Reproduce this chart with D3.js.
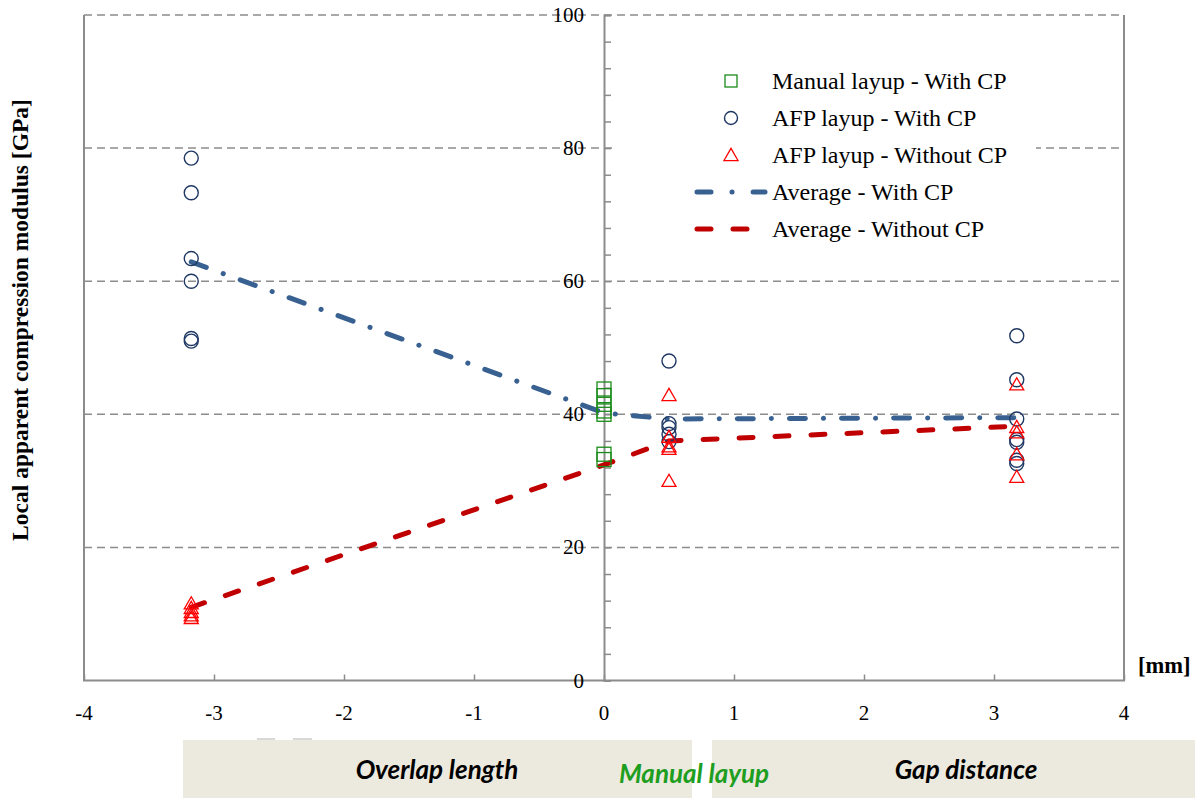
<!DOCTYPE html>
<html>
<head>
<meta charset="utf-8">
<title>Local apparent compression modulus</title>
<script src="https://d3js.org/d3.v7.min.js"></script>
<style>
  body { margin: 0; background: #fff; }
  svg { display: block; }
</style>
</head>
<body>
<svg width="1195" height="798"></svg>
<script>
// data
var xTicks = [-4, -3, -2, -1, 0, 1, 2, 3, 4];
var yTicks = [0, 20, 40, 60, 80, 100];

var manualWithCP = [[0, 43.8], [0, 42.8], [0, 41.5], [0, 40.5], [0, 40.0], [0, 34.0], [0, 33.2]];

var afpWithCP = [
  [-3.175, 78.5], [-3.175, 73.3], [-3.175, 63.4], [-3.175, 60.0], [-3.175, 51.4], [-3.175, 51.0],
  [0.5, 48.0], [0.5, 38.6], [0.5, 38.0], [0.5, 37.0], [0.5, 35.9],
  [3.175, 51.8], [3.175, 45.2], [3.175, 39.3], [3.175, 36.2], [3.175, 35.8], [3.175, 33.1], [3.175, 32.6]
];

var afpWithoutCP = [
  [-3.175, 11.6], [-3.175, 10.9], [-3.175, 10.3], [-3.175, 9.8], [-3.175, 9.4],
  [0.5, 42.9], [0.5, 36.6], [0.5, 35.2], [0.5, 34.8], [0.5, 30.0],
  [3.175, 44.5], [3.175, 38.1], [3.175, 37.3], [3.175, 34.0], [3.175, 30.6]
];

var avgX = [-3.175, 0, 0.5, 3.175];
var avgWithCP = [62.9, 40.2, 39.3, 39.5];
var avgWithoutCP = [11.0, 32.4, 36.0, 38.2];

var legendLabels = ["Manual layup - With CP", "AFP layup - With CP", "AFP layup - Without CP",
                    "Average - With CP", "Average - Without CP"];

var regionLabels = ["Overlap length", "Manual layup", "Gap distance"];

var svg = d3.select("svg");
var serif = "'Liberation Serif', 'Times New Roman', serif";

var x = d3.scaleLinear().domain([-4, 4]).range([84, 1124]);
var y = d3.scaleLinear().domain([0, 100]).range([680.5, 15]);

// grid lines (dashed)
svg.append("g").selectAll("line")
  .data(yTicks.filter(function(d) { return d > 0; }))
  .join("line")
  .attr("x1", x(-4)).attr("x2", x(4))
  .attr("y1", function(d) { return y(d); }).attr("y2", function(d) { return y(d); })
  .attr("stroke", "#8c8c8c").attr("stroke-width", 1.5)
  .attr("stroke-dasharray", "8,5");

// frame: left, right, bottom
svg.append("path")
  .attr("d", "M" + x(-4) + "," + y(100) + "V" + y(0) + "H" + x(4) + "V" + y(100))
  .attr("fill", "none").attr("stroke", "#8c8c8c").attr("stroke-width", 2);

// x axis ticks (inside)
var xAxis = d3.axisTop(x).tickValues(xTicks).tickSize(6).tickFormat("");
svg.append("g").attr("transform", "translate(0," + y(0) + ")").call(xAxis)
  .call(function(g) {
    g.select(".domain").remove();
    g.selectAll("line").attr("stroke", "#8c8c8c").attr("stroke-width", 1.5);
  });
svg.append("g").selectAll("text")
  .data(xTicks).join("text")
  .attr("x", function(d) { return x(d); })
  .attr("y", 720)
  .attr("text-anchor", "middle")
  .style("font-family", serif).style("font-size", "21px")
  .text(function(d) { return d; });

// y axis at x = 0, minor ticks every 4
var yAxisMinor = d3.axisRight(y).tickValues(d3.range(0, 101, 4)).tickSize(7).tickFormat("");
svg.append("g").attr("transform", "translate(" + x(0) + ",0)").call(yAxisMinor)
  .call(function(g) {
    g.select(".domain").attr("stroke", "#8c8c8c").attr("stroke-width", 2);
    g.selectAll("line").attr("stroke", "#8c8c8c").attr("stroke-width", 1.5);
  });

// legend background covers the grid
svg.append("rect").attr("x", 612).attr("y", 52).attr("width", 424).attr("height", 198).attr("fill", "#fff");

// y tick labels
svg.append("g").selectAll("text")
  .data(yTicks).join("text")
  .attr("x", 584)
  .attr("y", function(d) { return y(d) + 7; })
  .attr("text-anchor", "end")
  .style("font-family", serif).style("font-size", "21px")
  .text(function(d) { return d; });

// average lines
var lineFn = d3.line()
  .x(function(d) { return x(d[0]); })
  .y(function(d) { return y(d[1]); });

var withLine = avgX.map(function(v, i) { return [v, avgWithCP[i]]; });
var withoutLine = avgX.map(function(v, i) { return [v, avgWithoutCP[i]]; });

svg.append("path").datum(withoutLine).attr("d", lineFn)
  .attr("fill", "none").attr("stroke", "#c00000").attr("stroke-width", 5)
  .attr("stroke-linecap", "round").attr("stroke-dasharray", "14,22");
svg.append("path").datum(withLine).attr("d", lineFn)
  .attr("fill", "none").attr("stroke", "#386192").attr("stroke-width", 5)
  .attr("stroke-linecap", "round").attr("stroke-dasharray", "16,18,0.1,18");

// markers
var tri = d3.symbol().type(d3.symbolTriangle).size(85);

svg.append("g").selectAll("rect")
  .data(manualWithCP).join("rect")
  .attr("x", function(d) { return x(d[0]) - 7; })
  .attr("y", function(d) { return y(d[1]) - 7; })
  .attr("width", 14).attr("height", 14)
  .attr("fill", "none").attr("stroke", "#1a8c1a").attr("stroke-width", 1.3);

svg.append("g").selectAll("circle")
  .data(afpWithCP).join("circle")
  .attr("cx", function(d) { return x(d[0]); })
  .attr("cy", function(d) { return y(d[1]); })
  .attr("r", 7)
  .attr("fill", "none").attr("stroke", "#1f3864").attr("stroke-width", 1.4);

svg.append("g").selectAll("path")
  .data(afpWithoutCP).join("path")
  .attr("d", tri)
  .attr("transform", function(d) { return "translate(" + x(d[0]) + "," + (y(d[1]) + 1.5) + ")"; })
  .attr("fill", "none").attr("stroke", "#ff0000").attr("stroke-width", 1.3);

// legend
var lgX = 731, lgY = 81, lgStep = 37;
var lg = svg.append("g");
lg.append("rect").attr("x", lgX - 6).attr("y", lgY - 6).attr("width", 12).attr("height", 12)
  .attr("fill", "none").attr("stroke", "#1a8c1a").attr("stroke-width", 1.3);
lg.append("circle").attr("cx", lgX).attr("cy", lgY + lgStep).attr("r", 6.5)
  .attr("fill", "none").attr("stroke", "#1f3864").attr("stroke-width", 1.4);
lg.append("path").attr("d", tri)
  .attr("transform", "translate(" + lgX + "," + (lgY + 2 * lgStep + 1.5) + ")")
  .attr("fill", "none").attr("stroke", "#ff0000").attr("stroke-width", 1.3);
lg.append("line").attr("x1", 697).attr("x2", 765)
  .attr("y1", lgY + 3 * lgStep).attr("y2", lgY + 3 * lgStep)
  .attr("stroke", "#386192").attr("stroke-width", 5).attr("stroke-linecap", "round")
  .attr("stroke-dasharray", "14,21,0.1,21");
lg.append("line").attr("x1", 697).attr("x2", 765)
  .attr("y1", lgY + 4 * lgStep).attr("y2", lgY + 4 * lgStep)
  .attr("stroke", "#c00000").attr("stroke-width", 5).attr("stroke-linecap", "round")
  .attr("stroke-dasharray", "14,22");
lg.selectAll("text").data(legendLabels).join("text")
  .attr("x", 772)
  .attr("y", function(d, i) { return lgY + i * lgStep + 8; })
  .style("font-family", serif).style("font-size", "24px")
  .text(function(d) { return d; });

// axis titles
svg.append("text")
  .attr("transform", "translate(28,320) rotate(-90)")
  .attr("text-anchor", "middle")
  .style("font-family", serif).style("font-size", "23.5px").style("font-weight", "bold")
  .text("Local apparent compression modulus [GPa]");
svg.append("text")
  .attr("x", 1138).attr("y", 673)
  .style("font-family", serif).style("font-size", "22.5px").style("font-weight", "bold")
  .text("[mm]");

// region boxes below the axis
svg.append("rect").attr("x", 183).attr("y", 740).attr("width", 509).attr("height", 58).attr("fill", "#ece9df");
svg.append("rect").attr("x", 712).attr("y", 740).attr("width", 483).attr("height", 58).attr("fill", "#ece9df");
svg.append("rect").attr("x", 257).attr("y", 738).attr("width", 18).attr("height", 2).attr("fill", "#d8d8d8");
svg.append("rect").attr("x", 293).attr("y", 738).attr("width", 19).attr("height", 2).attr("fill", "#d8d8d8");

var sans = "Lato, 'Open Sans', sans-serif";
var regionPos = [[437, 779, "#000"], [694, 783, "#1e9e1e"], [966, 779, "#000"]];
svg.append("g").selectAll("text").data(regionLabels).join("text")
  .attr("x", function(d, i) { return regionPos[i][0]; })
  .attr("y", function(d, i) { return regionPos[i][1]; })
  .attr("text-anchor", "middle")
  .attr("fill", function(d, i) { return regionPos[i][2]; })
  .style("font-family", sans).style("font-size", "26px")
  .style("font-weight", "bold").style("font-style", "italic")
  .text(function(d) { return d; });
</script>
</body>
</html>
